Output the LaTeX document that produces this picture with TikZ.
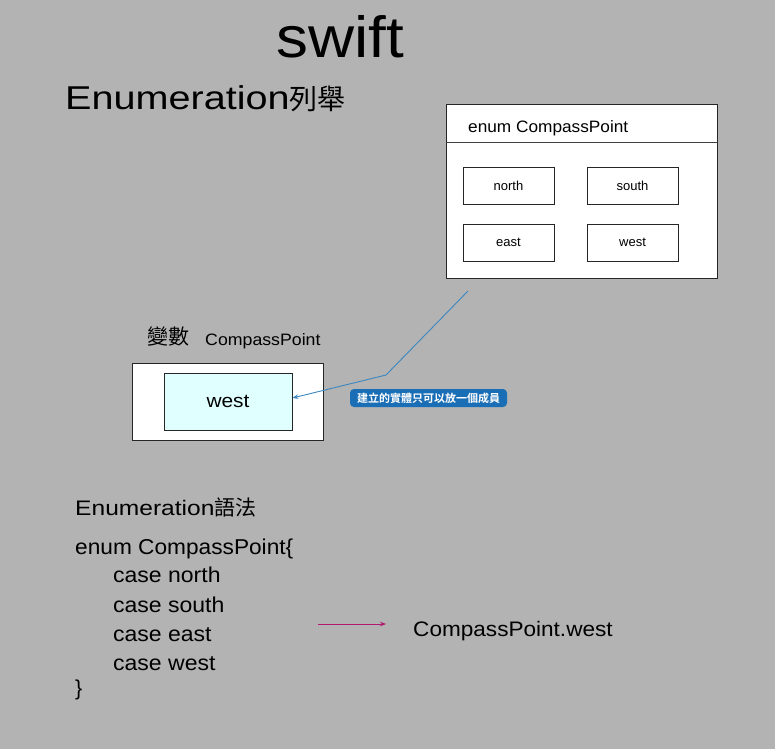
\documentclass[tikz,border=0pt]{standalone}
\usepackage{fontspec}
\usepackage{graphicx}
\setmainfont{Liberation Sans}
\newfontfamily\cjk{Noto Sans CJK TC}
\newfontfamily\cjkb{Noto Sans CJK TC Bold}
\usetikzlibrary{arrows.meta}
\definecolor{bggray}{HTML}{B3B3B3}
\definecolor{linkblue}{HTML}{3A87C0}
\definecolor{tagblue}{HTML}{1A6EB5}
\definecolor{arrmag}{HTML}{B0196E}
\definecolor{cellcyan}{HTML}{E0FFFF}
\newcommand{\fs}[1]{\fontsize{#1}{#1}\selectfont}
\newcommand{\wx}[2]{\scalebox{#1}[1]{#2}}
\tikzset{
  txt/.style={inner sep=0pt, anchor=base west, text=black},
  cell/.style={draw=black!85, line width=0.8pt, fill=white, minimum width=91pt, minimum height=37pt, inner sep=0pt, font=\fs{13}},
  panel/.style={draw=black!85, line width=0.8pt, fill=white, inner sep=0pt},
}
\begin{document}
\begin{tikzpicture}[x=1pt,y=-1pt]
\useasboundingbox (0,0) rectangle (775,749);
\fill[bggray] (0,0) rectangle (775,749);

% titles
\node[txt, font=\fs{58}] (title) at (276,58) {\wx{1.1}{swift}};
\node[txt, font=\fs{33}] (sub) at (65,110) {\wx{1.2}{Enumeration}{\cjk\fs{28}列舉}};

% enum box
\node[panel, minimum width=271pt, minimum height=174pt] (enumbox) at (581.5,191) {};
\draw[black!75, line width=0.8pt] ([yshift=-39pt]enumbox.north west) -- ([yshift=-39pt]enumbox.north east);
\node[txt, font=\fs{16.5}] (enumhead) at (468,132) {\wx{1.045}{enum CompassPoint}};
\node[cell] (north) at (508.5,185.5) {north};
\node[cell] (south) at (632.5,185.5) {south};
\node[cell] (east) at (508.5,242.5) {east};
\node[cell] (westc) at (632.5,242.5) {west};

% variable
\node[txt, font=\fs{21}] (varlbl) at (147,344) {{\cjk 變數}};
\node[txt, font=\fs{16.5}] (vartype) at (205,345) {\wx{1.075}{CompassPoint}};
\node[panel, minimum width=191pt, minimum height=77pt] (varbox) at (227.5,401.5) {};
\node[draw=black!85, line width=0.8pt, fill=cellcyan, minimum width=128pt, minimum height=57pt, inner sep=0pt, font=\fs{19}] (varval) at (228,401.5) {\wx{1.1}{west}};

% connector
\coordinate (cstart) at (468,291);
\coordinate (cbend) at (386,375);
\draw[linkblue, line width=0.9pt, -{Stealth[length=6pt,width=4.5pt]}] (cstart) -- (cbend) -- (varval.east |- 0,398);
\node[fill=tagblue, rounded corners=4pt, minimum width=157pt, minimum height=18pt, inner sep=0pt, text=white, font=\cjkb\fs{11}] (tag) at (428.5,398) {建立的實體只可以放一個成員};

% syntax
\node[txt, font=\fs{21}] (synt) at (75,515) {\wx{1.17}{Enumeration}{\cjk 語法}};
\node[txt, font=\fs{21.5}] (l1) at (75,554) {\wx{1.055}{enum CompassPoint\{}};
\node[txt, font=\fs{21.5}] (l2) at (113,582) {\wx{1.07}{case north}};
\node[txt, font=\fs{21.5}] (l3) at (113,612) {\wx{1.07}{case south}};
\node[txt, font=\fs{21.5}] (l4) at (113,641) {\wx{1.07}{case east}};
\node[txt, font=\fs{21.5}] (l5) at (113,670) {\wx{1.07}{case west}};
\node[txt, font=\fs{21.5}] (l6) at (75,695) {\}};

\coordinate (astart) at (318,624);
\node[txt, font=\fs{21}] (result) at (413,636) {\wx{1.075}{CompassPoint.west}};
\coordinate (aend) at (386,624);
\draw[arrmag, line width=0.9pt, -{Stealth[length=6pt,width=4.5pt]}] (astart) -- (aend);
\end{tikzpicture}
\end{document}
